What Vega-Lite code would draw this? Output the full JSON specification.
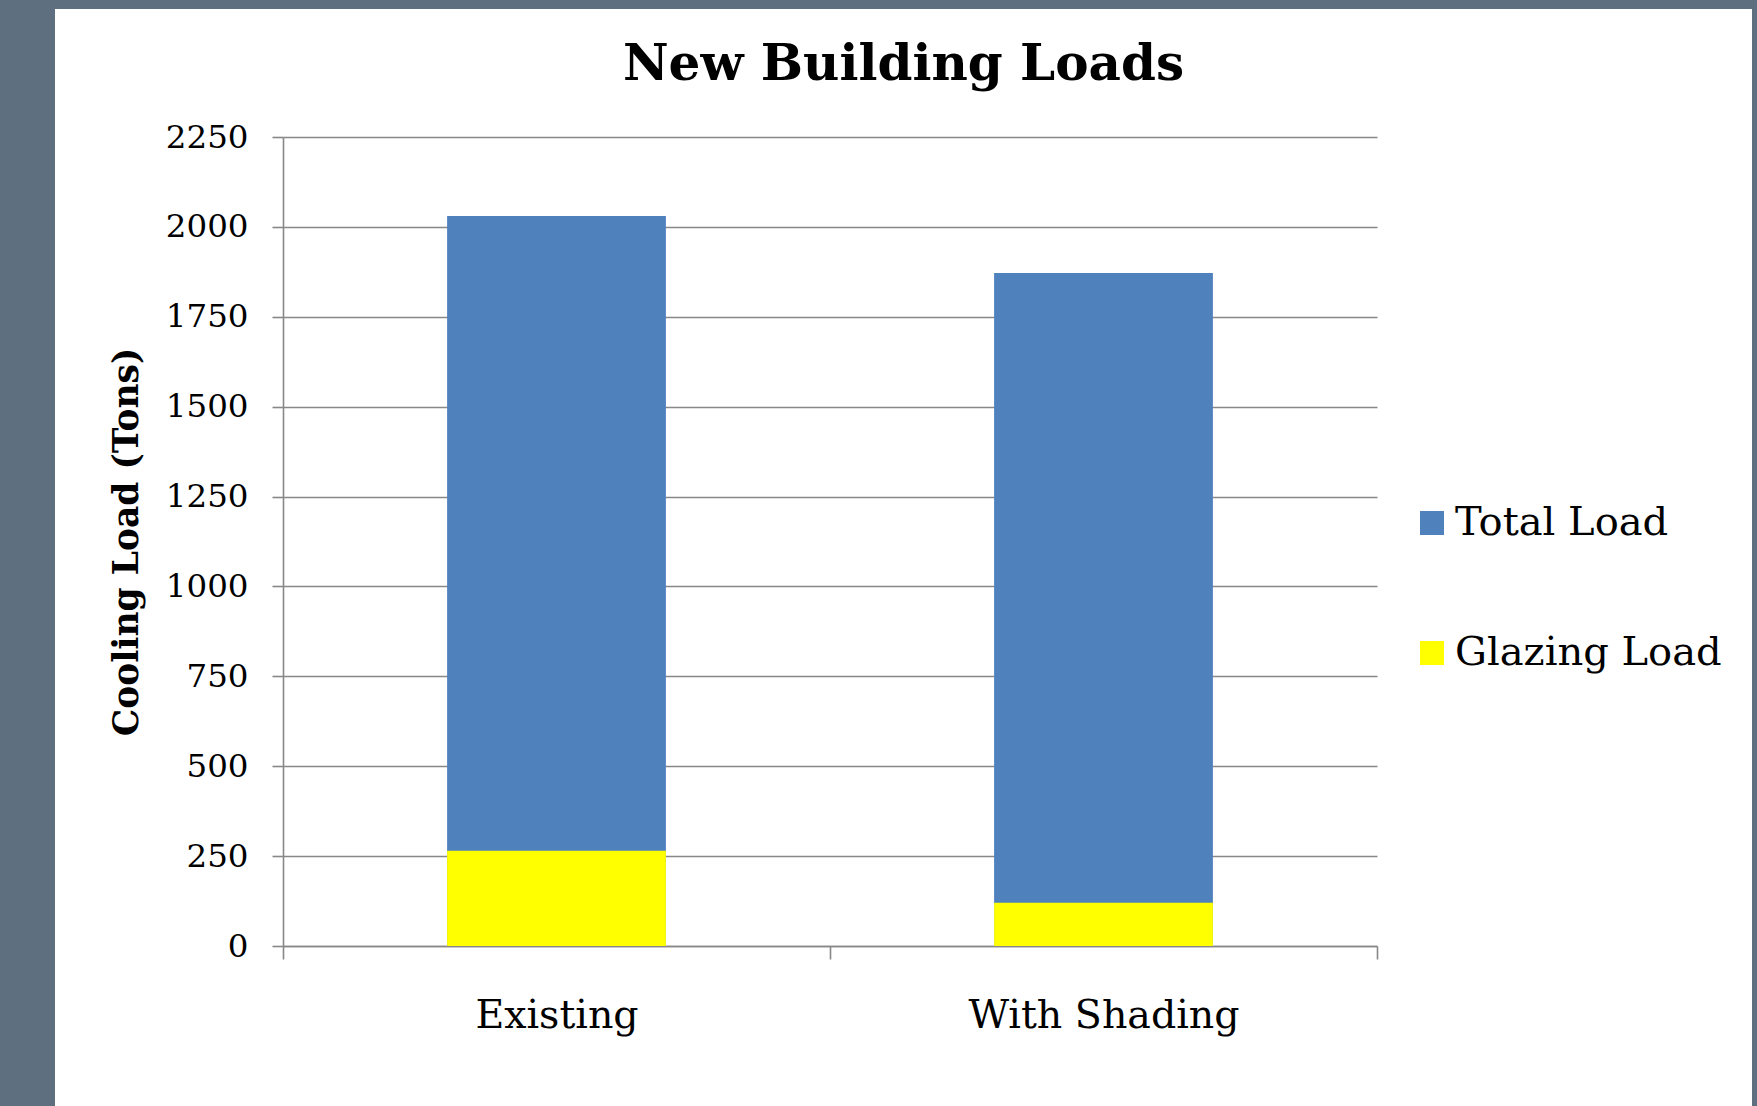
{
  "$schema": "https://vega.github.io/schema/vega-lite/v6.json",
  "autosize": "none",
  "width": 1697,
  "height": 1097,
  "padding": {"left": 55, "top": 9, "right": 5, "bottom": 0},
  "background": "#5E7080",
  "config": {
    "font": "DejaVu Serif",
    "view": {"fill": "#FFFFFF", "stroke": null},
    "axis": {
      "domainColor": "#888888",
      "domainWidth": 1.6,
      "tickColor": "#888888",
      "tickWidth": 1.6,
      "gridColor": "#888888",
      "gridWidth": 1.6,
      "labelColor": "#000000",
      "titleColor": "#000000"
    }
  },
  "title": {
    "text": "New Building Loads",
    "font": "DejaVu Serif",
    "fontSize": 50,
    "fontWeight": "bold",
    "color": "#000000",
    "anchor": "middle",
    "frame": "group",
    "baseline": "alphabetic",
    "offset": -121
  },
  "data": {
    "values": [
      {"scenario": "Existing", "series": "Total Load", "load": 2030},
      {"scenario": "Existing", "series": "Glazing Load", "load": 265},
      {"scenario": "With Shading", "series": "Total Load", "load": 1872},
      {"scenario": "With Shading", "series": "Glazing Load", "load": 120}
    ]
  },
  "mark": {"type": "bar", "width": {"band": 0.4}},
  "encoding": {
    "x": {
      "field": "scenario",
      "type": "nominal",
      "sort": ["Existing", "With Shading"],
      "scale": {"range": [228, 1322], "paddingInner": 0, "paddingOuter": 0},
      "axis": {
        "title": null,
        "offset": -160,
        "labelAngle": 0,
        "labelFontSize": 39.5,
        "labelLimit": 0,
        "labelPadding": 37,
        "tickSize": 13,
        "tickBand": "extent",
        "grid": false
      }
    },
    "y": {
      "field": "load",
      "type": "quantitative",
      "stack": null,
      "scale": {"domain": [0, 2250], "nice": false, "range": [937, 128]},
      "axis": {
        "title": "Cooling Load (Tons)",
        "titleFontSize": 34.5,
        "titleFontWeight": "bold",
        "titlePadding": 21,
        "offset": -228,
        "format": "d",
        "values": [0, 250, 500, 750, 1000, 1250, 1500, 1750, 2000, 2250],
        "labelFontSize": 32.5,
        "labelPadding": 24,
        "tickSize": 11,
        "grid": true
      }
    },
    "color": {
      "field": "series",
      "type": "nominal",
      "scale": {"domain": ["Total Load", "Glazing Load"], "range": ["#4F81BD", "#FFFF00"]},
      "legend": {
        "title": null,
        "orient": "none",
        "legendX": 1357,
        "legendY": 494,
        "padding": 0,
        "symbolType": "square",
        "symbolSize": 576,
        "symbolStrokeWidth": 0,
        "labelFontSize": 40,
        "labelLimit": 0,
        "labelColor": "#000000",
        "labelOffset": 3,
        "rowPadding": 90
      }
    }
  }
}
